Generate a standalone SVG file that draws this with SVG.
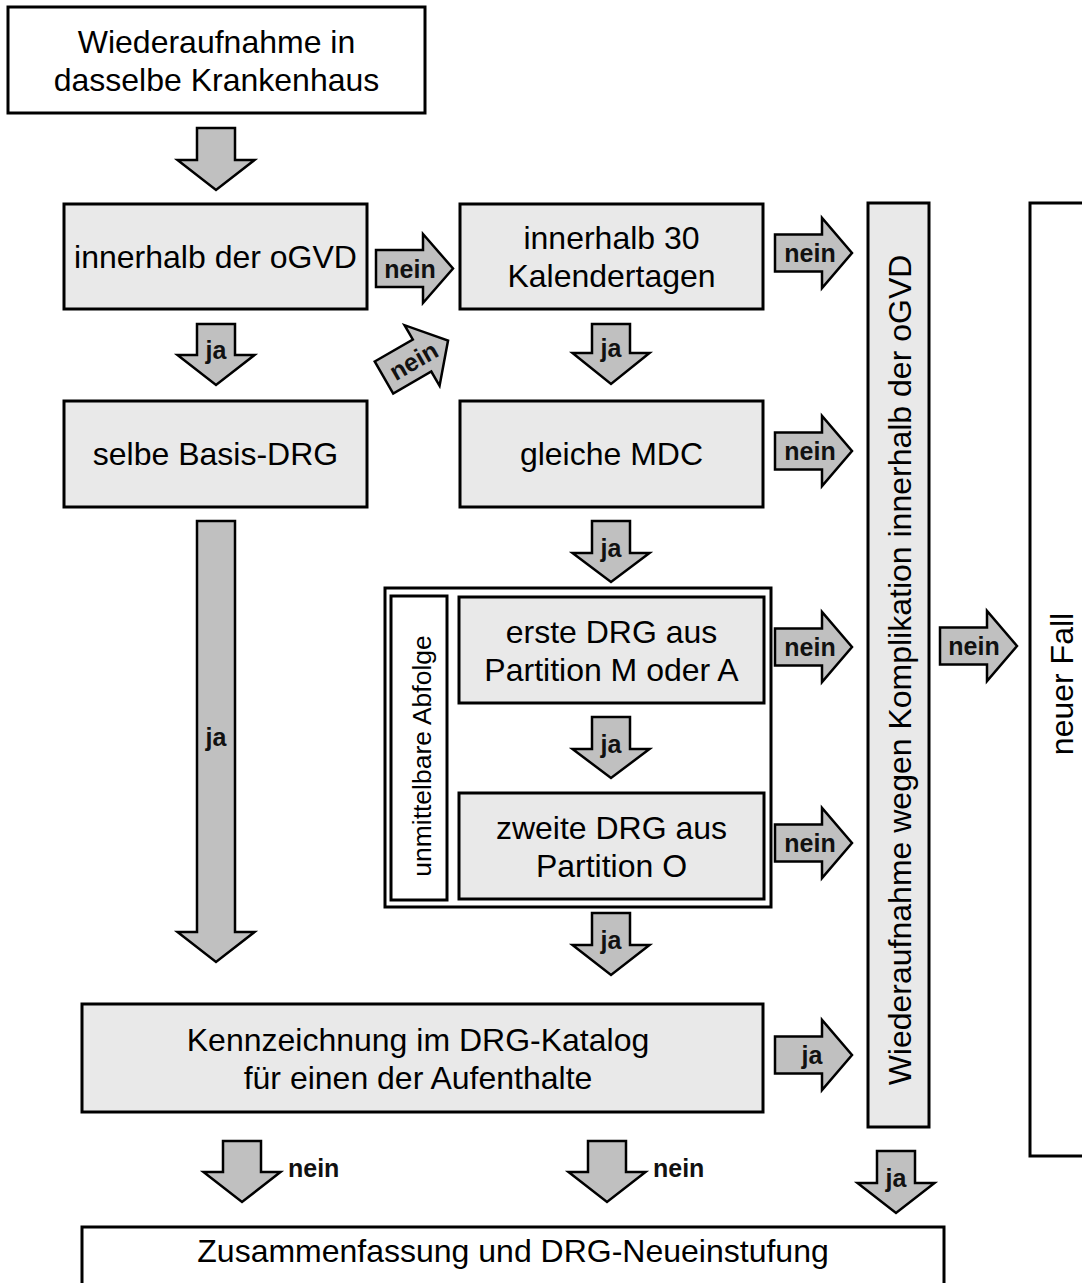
<svg xmlns="http://www.w3.org/2000/svg" width="1082" height="1283" viewBox="0 0 1082 1283">
<style>
.box{fill:#e9e9e9;stroke:#000;stroke-width:3}
.wbox{fill:#fff;stroke:#000;stroke-width:3}
.arr{fill:#c0c0c0;stroke:#000;stroke-width:2.5;stroke-linejoin:miter}
.t{font-family:"Liberation Sans",Arial,sans-serif;font-size:32px;fill:#000;text-anchor:middle}
.l{font-family:"Liberation Sans",Arial,sans-serif;font-size:25px;font-weight:bold;fill:#111;text-anchor:middle}
.ls{font-family:"Liberation Sans",Arial,sans-serif;font-size:25px;font-weight:bold;fill:#111;text-anchor:start}
</style>
<rect width="1082" height="1283" fill="#fff"/>

<g id="n-start"><rect class="wbox" x="8" y="7" width="417" height="106"/><text class="t" x="216.5" y="53">Wiederaufnahme in</text><text class="t" x="216.5" y="91">dasselbe Krankenhaus</text></g>
<g id="n-ogvd"><rect class="box" x="64" y="204" width="303" height="105"/><text class="t" x="215.5" y="268">innerhalb der oGVD</text></g>
<g id="n-30"><rect class="box" x="460" y="204" width="303" height="105"/><text class="t" x="611.5" y="249">innerhalb 30</text><text class="t" x="611.5" y="287">Kalendertagen</text></g>
<g id="n-basis"><rect class="box" x="64" y="401" width="303" height="106"/><text class="t" x="215.5" y="465">selbe Basis-DRG</text></g>
<g id="n-mdc"><rect class="box" x="460" y="401" width="303" height="106"/><text class="t" x="611.5" y="465">gleiche MDC</text></g>
<g id="n-folge"><rect class="wbox" x="385" y="588" width="386" height="319"/><rect class="wbox" x="391" y="596" width="56" height="304"/><text class="t" style="font-size:26.5px" transform="translate(431,756) rotate(-90)">unmittelbare Abfolge</text></g>
<g id="n-erste"><rect class="box" x="459" y="597" width="305" height="106"/><text class="t" x="611.5" y="643">erste DRG aus</text><text class="t" x="611.5" y="681">Partition M oder A</text></g>
<g id="n-zweite"><rect class="box" x="459" y="793" width="305" height="106"/><text class="t" x="611.5" y="839">zweite DRG aus</text><text class="t" x="611.5" y="877">Partition O</text></g>
<g id="n-kenn"><rect class="box" x="82" y="1004" width="681" height="108"/><text class="t" x="418" y="1051">Kennzeichnung im DRG-Katalog</text><text class="t" x="418" y="1089">für einen der Aufenthalte</text></g>
<g id="n-kompl"><rect class="box" x="868" y="203" width="61" height="924"/><text class="t" transform="translate(911,670) rotate(-90)">Wiederaufnahme wegen Komplikation innerhalb der oGVD</text></g>
<g id="n-neu"><rect class="wbox" x="1030" y="203" width="60" height="953"/><text class="t" transform="translate(1073,684) rotate(-90)">neuer Fall</text></g>
<g id="n-zus"><rect class="wbox" x="82" y="1227" width="862" height="62"/><text class="t" x="513" y="1262">Zusammenfassung und DRG-Neueinstufung</text></g>

<g id="connectors">
  <!-- down arrows -->
  <polygon class="arr" points="197,128 197,160 177.5,160 216,190 254.5,160 235,160 235,128"/>
  <g><polygon class="arr" points="197,324 197,355 177.5,355 216,385 254.5,355 235,355 235,324"/><text class="l" x="216" y="359">ja</text></g>
  <g><polygon class="arr" points="592,324 592,353 572.5,353 611,384 649.5,353 630,353 630,324"/><text class="l" x="611" y="357">ja</text></g>
  <g><polygon class="arr" points="592,521 592,553 572.5,553 611,582 649.5,553 630,553 630,521"/><text class="l" x="611" y="557">ja</text></g>
  <g><polygon class="arr" points="592,717 592,749 572.5,749 611,778 649.5,749 630,749 630,717"/><text class="l" x="611" y="753">ja</text></g>
  <g><polygon class="arr" points="592,913 592,945 572.5,945 611,975 649.5,945 630,945 630,913"/><text class="l" x="611" y="949">ja</text></g>
  <g><polygon class="arr" points="197,521 197,932 177.5,932 216,962 254.5,932 235,932 235,521"/><text class="l" x="216" y="746">ja</text></g>
  <g><polygon class="arr" points="223,1141 223,1172 203.5,1172 242,1202 280.5,1172 261,1172 261,1141"/><text class="ls" x="288" y="1177">nein</text></g>
  <g><polygon class="arr" points="588,1141 588,1172 568.5,1172 607,1202 645.5,1172 626,1172 626,1141"/><text class="ls" x="653" y="1177">nein</text></g>
  <g><polygon class="arr" points="877,1151 877,1183 857.5,1183 896,1213 934.5,1183 915,1183 915,1151"/><text class="l" x="896" y="1187">ja</text></g>
  <!-- right arrows -->
  <g><polygon class="arr" points="376,250 423,250 423,234 453,268.5 423,303 423,287 376,287"/><text class="l" x="410" y="277.5">nein</text></g>
  <g><polygon class="arr" points="775,234.5 822,234.5 822,218 852,253 822,288 822,271.5 775,271.5"/><text class="l" x="810" y="262">nein</text></g>
  <g><polygon class="arr" points="775,432.5 822,432.5 822,416 852,451 822,486 822,469.5 775,469.5"/><text class="l" x="810" y="460">nein</text></g>
  <g><polygon class="arr" points="775,628.5 822,628.5 822,612 852,647 822,682 822,665.5 775,665.5"/><text class="l" x="810" y="656">nein</text></g>
  <g><polygon class="arr" points="775,824.5 822,824.5 822,808 852,843 822,878 822,861.5 775,861.5"/><text class="l" x="810" y="852">nein</text></g>
  <g><polygon class="arr" points="775,1036.5 822,1036.5 822,1020 852,1055 822,1090 822,1073.5 775,1073.5"/><text class="l" x="812" y="1064">ja</text></g>
  <g><polygon class="arr" points="940,627.5 987,627.5 987,611 1017,646 987,681 987,664.5 940,664.5"/><text class="l" x="974" y="655">nein</text></g>
  <!-- diagonal arrow -->
  <g transform="translate(416,359) rotate(-30)">
    <polygon class="arr" points="-37,-18.5 7,-18.5 7,-35 37,0 7,35 7,18.5 -37,18.5"/>
    <text class="l" x="-3" y="9">nein</text>
  </g>
</g>
</svg>
